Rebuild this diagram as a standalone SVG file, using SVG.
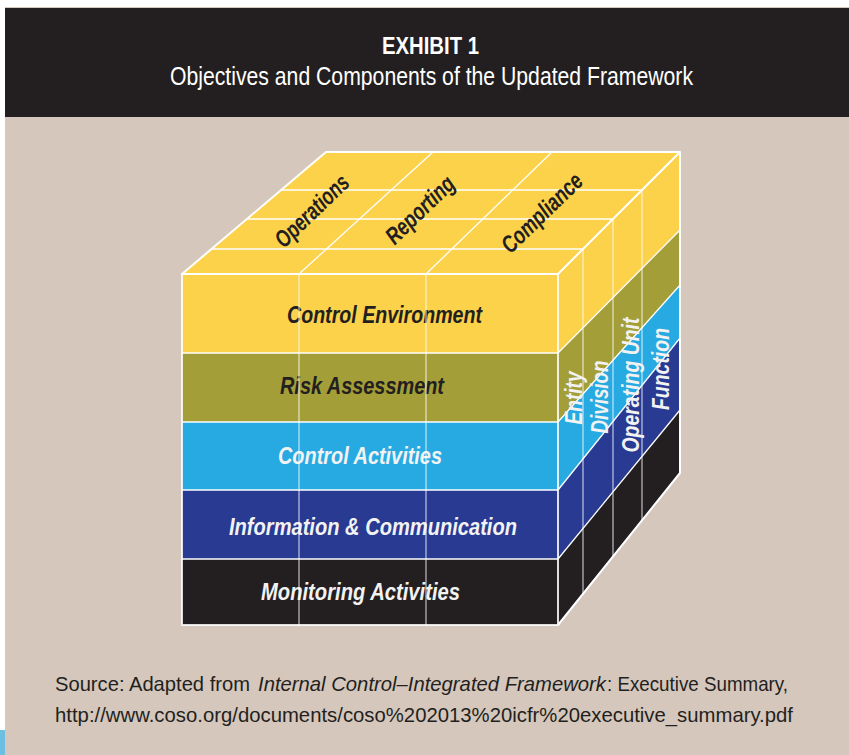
<svg xmlns="http://www.w3.org/2000/svg" width="849" height="755" viewBox="0 0 849 755">
  <style>
    .sans{font-family:"Liberation Sans",Arial,sans-serif}
    .hdr{fill:#ffffff}
    .lbl{font-family:"Liberation Sans",Arial,sans-serif;font-weight:bold;font-style:italic;font-size:23px}
    .obj{font-family:"Liberation Sans",Arial,sans-serif;font-weight:bold;font-style:italic;font-size:24px;fill:#231f20}
    .dark{fill:#231f20}
    .light{fill:#f2f2f2}
    .edge{stroke:#ffffff;stroke-width:2;fill:none;stroke-linejoin:round}
    .grid{stroke:#ffffff;stroke-width:1.3;fill:none}
    .soft{stroke:#ffffff;stroke-opacity:.72;stroke-width:1.2;fill:none}
    .src{font-family:"Liberation Sans",Arial,sans-serif;font-size:21px;fill:#231f20}
    .yel{fill:#fcd24a}.olv{fill:#a49e38}.cyn{fill:#26aae1}.nav{fill:#283a92}.blk{fill:#231f20}
  </style>

  <!-- page backdrop -->
  <g id="page">
    <rect x="0" y="0" width="849" height="755" fill="#ffffff"/>
    <rect x="5" y="7" width="844" height="748" fill="#d5c7bc"/>
    <rect x="5" y="8" width="844" height="109" fill="#231f20"/>
    <rect x="0" y="730" width="5" height="25" fill="#6cbfe0"/>
  </g>

  <!-- title block -->
  <g id="title">
    <text class="sans hdr" x="430.5" y="54" font-size="24" font-weight="bold" text-anchor="middle" textLength="97" lengthAdjust="spacingAndGlyphs">EXHIBIT 1</text>
    <text class="sans hdr" x="431.5" y="85" font-size="25" text-anchor="middle" textLength="523" lengthAdjust="spacingAndGlyphs">Objectives and Components of the Updated Framework</text>
  </g>

  <!-- top face: objectives -->
  <g id="top-face">
    <polygon class="yel" points="182,274 326,152 680,152 558,274"/>
  </g>

  <!-- front and side faces: components -->
  <g id="control-environment">
    <rect class="yel" x="182" y="274" width="376" height="79"/>
    <polygon class="yel" points="558,274 680,152 680,230 558,353"/>
    <text class="lbl dark" x="287" y="323" textLength="195" lengthAdjust="spacingAndGlyphs">Control Environment</text>
  </g>
  <g id="risk-assessment">
    <rect class="olv" x="182" y="353" width="376" height="69"/>
    <polygon class="olv" points="558,353 680,230 680,285 558,422"/>
    <text class="lbl dark" x="280" y="394" textLength="164" lengthAdjust="spacingAndGlyphs">Risk Assessment</text>
  </g>
  <g id="control-activities">
    <rect class="cyn" x="182" y="422" width="376" height="68"/>
    <polygon class="cyn" points="558,422 680,285 680,338 558,490"/>
    <text class="lbl light" x="278" y="464" textLength="164" lengthAdjust="spacingAndGlyphs">Control Activities</text>
  </g>
  <g id="information-communication">
    <rect class="nav" x="182" y="490" width="376" height="69"/>
    <polygon class="nav" points="558,490 680,338 680,410 558,559"/>
    <text class="lbl light" x="229" y="535" textLength="288" lengthAdjust="spacingAndGlyphs">Information &amp; Communication</text>
  </g>
  <g id="monitoring-activities">
    <rect class="blk" x="182" y="559" width="376" height="66"/>
    <polygon class="blk" points="558,559 680,410 680,473 558,625"/>
    <text class="lbl light" x="261" y="600" textLength="199" lengthAdjust="spacingAndGlyphs">Monitoring Activities</text>
  </g>

  <!-- cube grid and edges -->
  <g id="connectors">
    <!-- top face -->
    <line class="grid" x1="211.5" y1="249" x2="583" y2="249"/>
    <line class="grid" x1="247.4" y1="219" x2="613" y2="219"/>
    <line class="grid" x1="281.1" y1="190" x2="642" y2="190"/>
    <line class="grid" x1="299" y1="274" x2="433" y2="152"/>
    <line class="grid" x1="426" y1="274" x2="552" y2="152"/>
    <!-- front face -->
    <line class="soft" x1="299" y1="274" x2="299" y2="625"/>
    <line class="soft" x1="426" y1="274" x2="426" y2="625"/>
    <line class="grid" x1="182" y1="353" x2="558" y2="353"/>
    <line class="grid" x1="182" y1="422" x2="558" y2="422"/>
    <line class="grid" x1="182" y1="490" x2="558" y2="490"/>
    <line class="grid" x1="182" y1="559" x2="558" y2="559"/>
    <!-- side face -->
    <line class="grid" x1="558" y1="353" x2="680" y2="230"/>
    <line class="grid" x1="558" y1="422" x2="680" y2="285"/>
    <line class="grid" x1="558" y1="490" x2="680" y2="338"/>
    <line class="grid" x1="558" y1="559" x2="680" y2="410"/>
    <line class="soft" x1="583" y1="249" x2="583" y2="593.9"/>
    <line class="soft" x1="613" y1="219" x2="613" y2="556.5"/>
    <line class="soft" x1="642" y1="190" x2="642" y2="520.3"/>
    <!-- outer edges -->
    <rect class="edge" x="182" y="274" width="376" height="351" stroke-opacity=".85"/>
    <polygon class="edge" points="182,274 326,152 680,152 558,274"/>
    <polyline class="edge" points="558,625 680,473 680,152"/>
  </g>

  <!-- objective labels on the top face -->
  <g id="operations">
    <text class="obj" transform="translate(312,211) rotate(-44)" x="0" y="8" text-anchor="middle" textLength="93" lengthAdjust="spacingAndGlyphs">Operations</text>
  </g>
  <g id="reporting">
    <text class="obj" transform="translate(420,210) rotate(-44)" x="0" y="8" text-anchor="middle" textLength="86" lengthAdjust="spacingAndGlyphs">Reporting</text>
  </g>
  <g id="compliance">
    <text class="obj" transform="translate(542,213) rotate(-44)" x="0" y="8" text-anchor="middle" textLength="103" lengthAdjust="spacingAndGlyphs">Compliance</text>
  </g>

  <!-- organisational levels on the side face -->
  <g id="entity">
    <text class="lbl light" transform="translate(582,398) rotate(-90)" x="0" y="0" text-anchor="middle" textLength="53" lengthAdjust="spacingAndGlyphs">Entity</text>
  </g>
  <g id="division">
    <text class="lbl light" transform="translate(608,397) rotate(-90)" x="0" y="0" text-anchor="middle" textLength="73" lengthAdjust="spacingAndGlyphs">Division</text>
  </g>
  <g id="operating-unit">
    <text class="lbl light" transform="translate(639,385) rotate(-90)" x="0" y="0" text-anchor="middle" textLength="135" lengthAdjust="spacingAndGlyphs">Operating Unit</text>
  </g>
  <g id="function">
    <text class="lbl light" transform="translate(669,369) rotate(-90)" x="0" y="0" text-anchor="middle" textLength="82" lengthAdjust="spacingAndGlyphs">Function</text>
  </g>

  <!-- source note -->
  <g id="source">
    <text class="src" x="55" y="691" textLength="195" lengthAdjust="spacingAndGlyphs">Source: Adapted from</text>
    <text class="src" x="258" y="691" font-style="italic" textLength="348" lengthAdjust="spacingAndGlyphs">Internal Control–Integrated Framework</text>
    <text class="src" x="607" y="691" textLength="181" lengthAdjust="spacingAndGlyphs">: Executive Summary,</text>
    <text class="src" x="55" y="722" textLength="738" lengthAdjust="spacingAndGlyphs">http://www.coso.org/documents/coso%202013%20icfr%20executive_summary.pdf</text>
  </g>
</svg>
